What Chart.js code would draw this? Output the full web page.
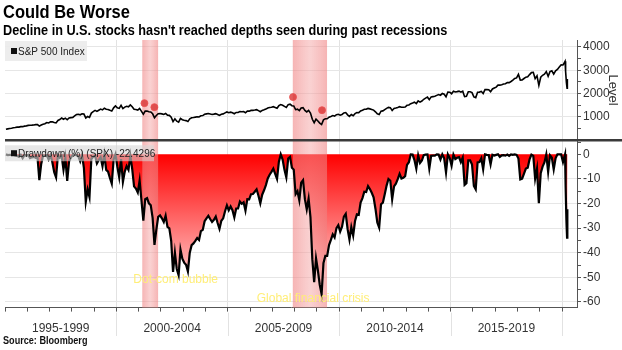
<!DOCTYPE html>
<html>
<head>
<meta charset="utf-8">
<title>Could Be Worse</title>
<script src="https://cdn.jsdelivr.net/npm/chart.js"></script>
<style>
  body { margin: 0; background: #fff; }
  #wrap { position: relative; width: 622px; height: 350px; overflow: hidden; }
  #wrap canvas { position: absolute; left: 0; top: 0; }
  .txt { position: absolute; left: 3px; white-space: nowrap; font-family: "Liberation Sans", Arial, sans-serif;
         font-weight: bold; color: #000; transform-origin: 0 0; }
  .title { top: 3px; font-size: 18px; line-height: 18px; transform: scaleX(0.915); }
  .sub { top: 23px; font-size: 14px; line-height: 14px; transform: scaleX(0.906); }
  .src { top: 336px; font-size: 10px; line-height: 10px; transform: scaleX(0.91); color: #111; }
</style>
</head>
<body>
<div id="wrap">
  <canvas id="chart" width="622" height="350"></canvas>
  <div class="txt title">Could Be Worse</div>
  <div class="txt sub">Decline in U.S. stocks hasn't reached depths seen during past recessions</div>
  <div class="txt src">Source: Bloomberg</div>
</div>
<script>
// monthly S&P 500 level, Jan 1995 .. Jan 2020 (month close, trough months use the low)
const spxLevel = [
  470, 487, 501, 515, 533, 545, 562, 562, 584, 582, 605, 616,          // 1995
  636, 640, 646, 654, 669, 671, 607, 652, 687, 705, 757, 741,          // 1996
  786, 791, 757, 740, 848, 885, 954, 900, 947, 877, 955, 970,          // 1997
  980, 1049, 1102, 1112, 1091, 1134, 1121, 957, 1017, 980, 1164, 1229, // 1998
  1280, 1238, 1286, 1335, 1302, 1373, 1329, 1320, 1283, 1250, 1389, 1469, // 1999
  1394, 1366, 1499, 1357, 1421, 1455, 1431, 1518, 1437, 1329, 1315, 1290, // 2000
  1366, 1240, 1117, 1250, 1256, 1224, 1211, 1134, 966, 1060, 1140, 1148,  // 2001
  1130, 1107, 1147, 1077, 1067, 990, 797, 916, 815, 777, 936, 880,        // 2002
  856, 841, 800, 917, 964, 975, 990, 1008, 996, 1051, 1058, 1112,         // 2003
  1131, 1145, 1126, 1107, 1121, 1141, 1102, 1064, 1115, 1130, 1174, 1212, // 2004
  1181, 1204, 1181, 1137, 1192, 1191, 1234, 1220, 1229, 1177, 1250, 1248, // 2005
  1280, 1281, 1295, 1311, 1270, 1223, 1277, 1304, 1336, 1378, 1401, 1418, // 2006
  1438, 1407, 1374, 1482, 1531, 1503, 1455, 1407, 1527, 1549, 1481, 1468, // 2007
  1311, 1331, 1273, 1386, 1400, 1280, 1214, 1283, 1166, 899, 752, 903,    // 2008
  826, 735, 677, 873, 919, 919, 988, 1021, 1057, 1036, 1096, 1115,        // 2009
  1074, 1105, 1169, 1187, 1089, 1022, 1102, 1049, 1141, 1183, 1181, 1258, // 2010
  1286, 1327, 1326, 1364, 1345, 1321, 1292, 1219, 1131, 1099, 1247, 1258, // 2011
  1312, 1366, 1409, 1398, 1278, 1362, 1379, 1407, 1441, 1412, 1416, 1426, // 2012
  1498, 1515, 1569, 1598, 1631, 1573, 1686, 1633, 1682, 1757, 1806, 1848, // 2013
  1741, 1860, 1872, 1884, 1924, 1960, 1931, 2003, 1972, 1862, 2068, 2059, // 2014
  1995, 2105, 2068, 2086, 2107, 2063, 2104, 1868, 1881, 2079, 2080, 2044, // 2015
  1859, 1829, 2060, 2065, 2097, 2001, 2174, 2171, 2168, 2085, 2199, 2239, // 2016
  2279, 2364, 2363, 2384, 2412, 2423, 2470, 2472, 2519, 2575, 2648, 2674, // 2017
  2824, 2581, 2588, 2648, 2705, 2718, 2816, 2902, 2914, 2641, 2760, 2351, // 2018
  2704, 2785, 2834, 2946, 2744, 2942, 2980, 2840, 2977, 3038, 3141, 3231, // 2019
  3226                                                                    // 2020
];

// drawdown from running peak (%), same months
const drawdownPct = [
  0, -0.3, -0.2, -0.2, -0.1, -0.4, -0.6, -1.0, -0.2, -1.5, -0.3, -0.5,
  -0.2, -1.5, -1.2, -1.0, -1.4, -1.2, -10.5, -3.9, -0.5, -0.6, -0.4, -2.1,
  -0.3, -3.2, -7.3, -9.4, -0.3, -1.4, -0.6, -6.3, -1.4, -10.8, -2.8, -1.3,
  -0.3, -0.1, -0.4, -0.8, -2.8, -0.3, -5.6, -19.3, -14.3, -17.4, -1.9, -1.0,
  -0.5, -3.7, -2.3, -1.2, -4.8, -0.1, -6.3, -7.0, -9.6, -11.9, -2.1, 0,
  -5.1, -9.3, -1.9, -11.2, -7.0, -4.8, -6.3, -0.6, -5.9, -13.0, -13.9, -15.5,
  -10.6, -18.8, -26.9, -18.2, -17.8, -19.9, -20.7, -25.8, -36.8, -30.6, -25.4, -24.8,
  -26.0, -27.5, -24.9, -29.5, -30.1, -35.2, -47.8, -40.0, -46.6, -49.1, -38.7, -42.4,
  -44.0, -44.9, -47.6, -40.0, -36.9, -36.2, -35.2, -34.0, -34.8, -31.2, -30.7, -27.2,
  -26.0, -25.0, -26.3, -27.5, -26.6, -25.3, -27.9, -30.3, -27.0, -26.0, -23.1, -20.7,
  -22.7, -21.2, -22.7, -25.6, -22.0, -22.0, -19.2, -20.1, -19.5, -22.9, -18.2, -18.3,
  -16.2, -16.1, -15.2, -14.2, -16.8, -19.9, -16.4, -14.6, -12.5, -9.8, -8.3, -7.1,
  -5.8, -7.9, -10.0, -3.0, 0, -2.1, -6.3, -9.4, -1.7, -1.0, -5.4, -6.2,
  -16.2, -15.0, -18.7, -11.5, -10.5, -18.2, -22.4, -18.0, -25.5, -42.6, -52.0, -42.3,
  -47.2, -53.0, -56.8, -44.2, -41.3, -41.3, -36.9, -34.8, -32.5, -33.8, -30.0, -28.8,
  -31.4, -29.4, -25.3, -24.2, -30.4, -34.7, -29.6, -33.0, -27.1, -24.4, -24.6, -19.6,
  -17.8, -15.2, -15.3, -12.9, -14.1, -15.6, -17.5, -22.1, -27.7, -29.8, -20.3, -19.6,
  -16.2, -12.7, -10.0, -10.7, -18.3, -13.0, -11.9, -10.1, -7.9, -9.8, -9.5, -8.9,
  -4.3, -3.2, 0, -0.1, -2.3, -5.8, -0.4, -3.5, -2.5, -0.3, -0.1, 0,
  -5.8, -0.6, -0.5, -0.5, 0, -0.1, -2.1, 0, -1.6, -7.4, 0, -1.5,
  -4.6, -0.1, -1.9, -1.4, -1.1, -3.2, -1.3, -12.4, -11.7, -2.4, -2.4, -4.1,
  -12.8, -14.2, -3.3, -3.1, -1.6, -6.1, 0, -0.2, -0.3, -4.1, -0.2, -0.5,
  -0.2, 0, -1.0, -0.4, -0.3, -0.5, -0.1, -0.6, 0, -0.2, 0, -0.2,
  -1.7, -10.2, -9.9, -7.8, -5.8, -5.4, -2.0, -0.1, -0.6, -9.9, -5.8, -19.8,
  -7.7, -5.0, -3.3, 0, -7.1, -0.4, -1.4, -6.1, -1.6, 0, 0, 0,
  -3.1
];

// the Feb/Mar 2020 sell-off, daily points
const crashDates = ['2020-02-19', '2020-02-28', '2020-03-12', '2020-03-16', '2020-03-23', '2020-03-26', '2020-03-30'];
const crashLevel = [3386, 2954, 2481, 2386, 2237, 2630, 2627];
const crashDrawdown = [0, -12.8, -26.7, -29.5, -33.9, -22.3, -22.4];

const periodLabels = ['1995-1999', '2000-2004', '2005-2009', '2010-2014', '2015-2019'];
const recessions = [['2001-03-01', '2001-11-15'], ['2007-12-01', '2009-06-15']];
const markerDates = ['2001-04-05', '2001-09-15', '2007-12-05', '2009-03-25'];
const markerLevels = [1590, 1420, 1850, 1290];
const notes = [
  { text: 'Dot-com bubble', date: '2000-10-05', value: -50.8 },
  { text: 'Global financial crisis', date: '2006-04-20', value: -58.8 }
];

const FONT = '"Liberation Sans", Arial, sans-serif';

function decimalYear(s) {
  const [y, m, d] = s.split('-').map(Number);
  const start = Date.UTC(y, 0, 1), end = Date.UTC(y + 1, 0, 1);
  return y + (Date.UTC(y, m - 1, d || 15) - start) / (end - start);
}
const monthX = i => 1995 + (i + 0.5) / 12;

const levelData = spxLevel.map((v, i) => ({ x: monthX(i), y: v }))
  .concat(crashDates.map((d, i) => ({ x: decimalYear(d), y: crashLevel[i] })));
const ddData = drawdownPct.map((v, i) => ({ x: monthX(i), y: v }))
  .concat(crashDates.map((d, i) => ({ x: decimalYear(d), y: crashDrawdown[i] })));
const markerData = markerDates.map((d, i) => ({ x: decimalYear(d), y: markerLevels[i] }));

// yearly minor ticks plus one label tick in the middle of each 5-year block
const xTicks = [];
for (let y = 1995; y <= 2020; y++) xTicks.push(y);
periodLabels.forEach((l, i) => xTicks.push(1997.5 + 5 * i));
xTicks.sort((a, b) => a - b);

const panels = {
  id: 'panels',
  beforeDatasetDraw(chart, args) {
    if (args.index !== 2) return;
    const { ctx, chartArea: a, scales: { x } } = chart;
    ctx.save();
    recessions.forEach(([s, e]) => {
      const x0 = x.getPixelForValue(decimalYear(s)), x1 = x.getPixelForValue(decimalYear(e));
      const g = ctx.createLinearGradient(x0, 0, x1, 0);
      g.addColorStop(0, 'rgba(240,130,130,0.6)');
      g.addColorStop(0.5, 'rgba(245,165,165,0.5)');
      g.addColorStop(1, 'rgba(240,130,130,0.6)');
      ctx.fillStyle = g;
      ctx.fillRect(x0, a.top, x1 - x0, a.bottom - a.top);
    });
    ctx.restore();
  },
  afterDatasetsDraw(chart) {
    const { ctx, chartArea: a, scales: { x, yLevel, yDD } } = chart;
    ctx.save();
    // annotations
    ctx.font = '12px ' + FONT;
    ctx.fillStyle = 'rgb(255,238,120)';
    ctx.textBaseline = 'middle';
    notes.forEach(n => ctx.fillText(n.text, x.getPixelForValue(decimalYear(n.date)), yDD.getPixelForValue(n.value)));

    // legend boxes
    ctx.fillStyle = 'rgba(236,236,236,0.92)';
    ctx.fillRect(a.left, a.top + 1, 82, 20);
    ctx.fillStyle = 'rgba(215,215,215,0.6)';
    ctx.fillRect(a.left, yLevel.bottom + 5, 149, 16);
    ctx.fillStyle = '#111';
    ctx.fillRect(a.left + 6, a.top + 8, 6, 6);
    ctx.fillRect(a.left + 6, yLevel.bottom + 10, 6, 6);
    ctx.font = '10px ' + FONT;
    ctx.textBaseline = 'alphabetic';
    ctx.fillStyle = '#222';
    ctx.fillText('S&P 500 Index', a.left + 13, a.top + 15);
    ctx.fillText('Drawdown (%) (SPX) -22.4296', a.left + 13, yLevel.bottom + 17);

    // panel separator
    ctx.strokeStyle = '#3a3a3a';
    ctx.lineWidth = 2.5;
    ctx.beginPath();
    ctx.moveTo(a.left, yLevel.bottom);
    ctx.lineTo(chart.width, yLevel.bottom);
    ctx.stroke();
    ctx.restore();
  },
  afterDraw(chart) {
    const { ctx, chartArea: a, scales: { x } } = chart;
    ctx.save();
    ctx.strokeStyle = '#e2e2e2';
    ctx.lineWidth = 1;
    for (let y = 2000; y <= 2020; y += 5) {
      const px = Math.round(x.getPixelForValue(y)) + 0.5;
      ctx.beginPath();
      ctx.moveTo(px, a.bottom + 5);
      ctx.lineTo(px, 336);
      ctx.stroke();
    }
    ctx.restore();
  }
};

const fitWidth = axis => { axis.width = 45; };

new Chart(document.getElementById('chart'), {
  type: 'line',
  data: {
    datasets: [
      {
        type: 'scatter', data: markerData, yAxisID: 'yLevel',
        pointRadius: 3.5, pointBackgroundColor: 'rgba(215,40,40,0.75)', pointBorderColor: 'rgba(235,80,80,0.8)', pointBorderWidth: 1
      },
      {
        data: levelData, yAxisID: 'yLevel', borderColor: '#000', borderWidth: 1.6,
        pointRadius: 0, tension: 0, fill: false
      },
      {
        data: ddData, yAxisID: 'yDD', borderColor: '#000', borderWidth: 2.2,
        pointRadius: 0, tension: 0, fill: 'origin',
        backgroundColor: ctx => {
          const chart = ctx.chart;
          const s = chart.scales.yDD;
          if (!chart.chartArea || !s) return 'rgba(255,0,0,0.8)';
          const g = chart.ctx.createLinearGradient(0, s.getPixelForValue(0), 0, s.getPixelForValue(-60));
          g.addColorStop(0, 'rgb(255,0,0)');
          g.addColorStop(1, 'rgb(255,236,236)');
          return g;
        }
      }
    ]
  },
  options: {
    responsive: false,
    animation: false,
    layout: { padding: { left: 0, top: 40, right: 0, bottom: 4 } },
    plugins: { legend: { display: false }, tooltip: { enabled: false } },
    scales: {
      x: {
        type: 'linear', min: 1995, max: 2020.67,
        afterBuildTicks: axis => { axis.ticks = xTicks.map(v => ({ value: v })); },
        afterFit: axis => { axis.paddingLeft = 3; axis.paddingRight = 0; },
        ticks: {
          autoSkip: false, maxRotation: 0, padding: 10, color: '#333', font: { family: FONT, size: 12 },
          callback: v => (v % 5 === 2.5 ? periodLabels[(v - 1997.5) / 5] : '')
        },
        grid: {
          tickLength: 4,
          color: c => (c.tick && c.tick.value % 5 === 0 && c.tick.value > 1995 ? '#e2e2e2' : 'rgba(0,0,0,0)'),
          tickColor: c => (c.tick && Number.isInteger(c.tick.value) ? '#555' : 'rgba(0,0,0,0)')
        },
        border: { color: '#555' }
      },
      yLevel: {
        type: 'linear', position: 'right', stack: 'panels', stackWeight: 100,
        min: 0, max: 4300,
        afterBuildTicks: axis => { const t = []; for (let v = 0; v <= 4000; v += 500) t.push({ value: v }); axis.ticks = t; },
        afterFit: fitWidth,
        ticks: { autoSkip: false, padding: 2, color: '#333', font: { family: FONT, size: 12 }, callback: v => (v % 1000 === 0 && v > 0 ? v : '') },
        grid: {
          tickLength: 4, tickColor: '#555',
          color: c => (c.tick && c.tick.value % 1000 === 0 && c.tick.value > 0 ? '#e6e6e6' : 'rgba(0,0,0,0)')
        },
        border: { color: '#555' },
        title: { display: true, text: 'Level', color: '#333', font: { family: FONT, size: 13 }, padding: { top: 2, bottom: 0 } }
      },
      yDD: {
        type: 'linear', position: 'right', stack: 'panels', stackWeight: 167,
        min: -62.3, max: 5.75,
        afterBuildTicks: axis => { const t = []; for (let v = -60; v <= 5; v += 5) t.push({ value: v }); axis.ticks = t; },
        afterFit: fitWidth,
        ticks: { autoSkip: false, padding: 2, color: '#333', font: { family: FONT, size: 12 }, callback: v => (v % 10 === 0 ? v : '') },
        grid: {
          tickLength: 4, tickColor: '#555',
          color: c => (c.tick && c.tick.value % 10 === 0 && c.tick.value < 0 ? '#e6e6e6' : 'rgba(0,0,0,0)')
        },
        border: { color: '#555' }
      }
    }
  },
  plugins: [panels]
});
</script>
</body>
</html>
